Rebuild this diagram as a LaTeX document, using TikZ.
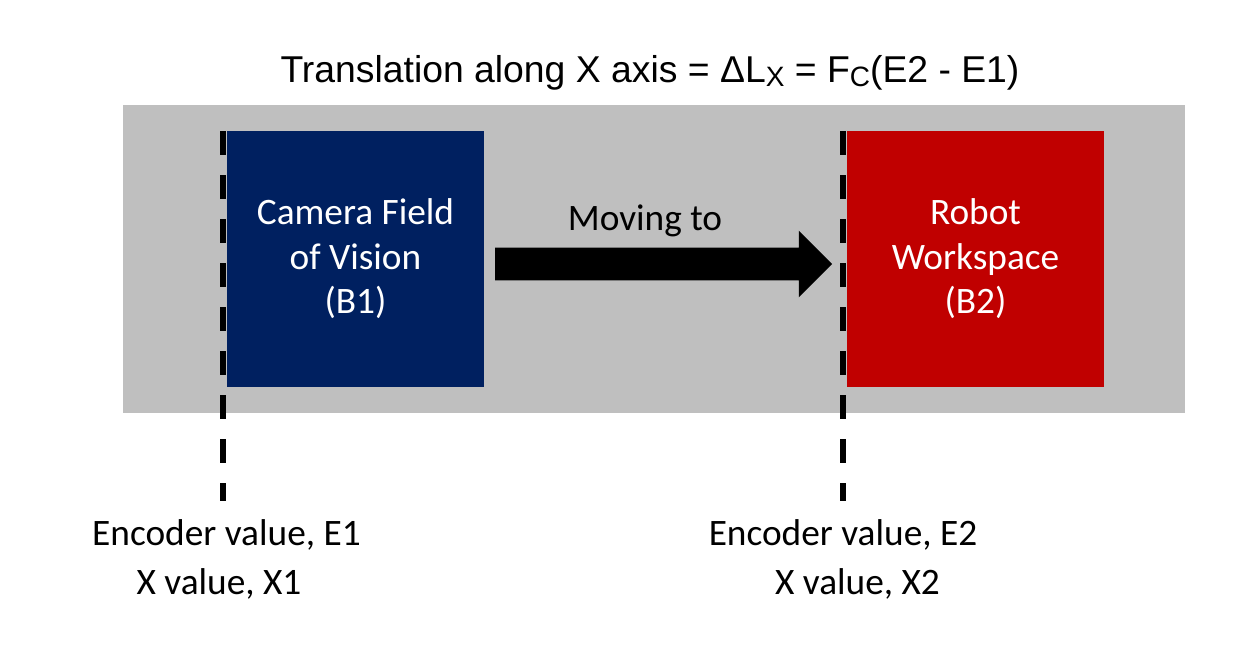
\documentclass[tikz,border=0pt]{standalone}
\usepackage{fontspec}
\setmainfont{Carlito}
\newfontfamily\titlefont{Liberation Sans}
\usetikzlibrary{shapes.arrows}
\definecolor{bggray}{HTML}{BFBFBF}
\definecolor{navyblue}{HTML}{002060}
\definecolor{darkred}{HTML}{C00000}
\newcommand{\subtxt}[1]{\raisebox{-3.5pt}{\fontsize{21}{21}\selectfont #1}}
\begin{document}
\begin{tikzpicture}[x=0.75pt,y=-0.75pt,
  blockbox/.style={rectangle, inner sep=0pt, minimum width=192.75pt, minimum height=192pt,
    text=white, align=center, font=\fontsize{28}{33.4}\selectfont},
  plaintext/.style={inner sep=0pt, anchor=base, font=\fontsize{28}{33.4}\selectfont},
  encline/.style={line width=4.5pt, dash pattern=on 18pt off 15pt, black},
  movearrow/.style={single arrow, fill=black, inner sep=0pt, text height=12pt, text depth=12pt,
    minimum height=252.75pt, single arrow head extend=12.75pt, single arrow head indent=0pt,
    single arrow tip angle=90}
]
\useasboundingbox (0,0) rectangle (1242,651);
\fill[white] (0,0) rectangle (1242,651);
\node[fill=bggray, inner sep=0pt, minimum width=796.5pt, minimum height=231pt] (bg) at (654,259) {};
\node[blockbox, fill=navyblue] (b1) at (355.5,259) {Camera Field\\of Vision\\(B1)};
\node[blockbox, fill=darkred] (b2) at (975.5,259) {Robot\\Workspace\\(B2)};
\node[movearrow] (arr) at (655.5,264) {};
\node[plaintext] (mv) at (645,230) {Moving to};
\coordinate (e1top) at (223,131);
\coordinate (e1bot) at (223,501);
\coordinate (e2top) at (843,131);
\coordinate (e2bot) at (843,501);
\draw[encline] (e1top) -- (e1bot);
\draw[encline] (e2top) -- (e2bot);
\node[plaintext] (l1a) at (226.5,545) {Encoder value, E1};
\node[plaintext] (l1b) at (219,594) {X value, X1};
\node[plaintext] (l2a) at (843,545) {Encoder value, E2};
\node[plaintext] (l2b) at (857.5,594) {X value, X2};
\node[inner sep=0pt, anchor=base, font=\titlefont\fontsize{28}{34}\selectfont] (title) at (650,82)
  {Translation along X axis = ΔL\subtxt{X} = F\subtxt{C}(E2 - E1)};
\end{tikzpicture}
\end{document}
